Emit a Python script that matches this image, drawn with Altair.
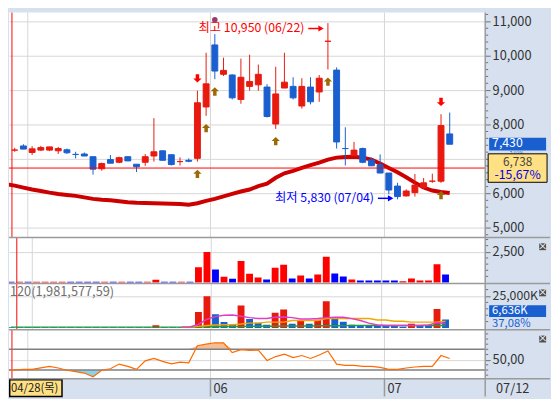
import altair as alt
import pandas as pd

# ---------------- data ----------------
day_index = list(range(52))
open_p = [7260, 7260, 7380, 7190, 7259, 7259, 7239, 7268, 7134, 7146, 7068, 6718, 6983, 6906, 7068, 6849,
          6906, 7088, 7239, 7125, 6926, 6963, 7020, 8513, 10316, 9462, 9442, 8730, 9111, 9157, 9091, 8017,
          9063, 9111, 8541, 9091, 8949, 10422, 9584, 7305, 7097, 7305, 6974, 6832, 6593, 6214, 5929, 6023,
          6165, 6356, 6356, 7730]
high_p = [7260, 7325, 7430, 7373, 7382, 7353, 7353, 7305, 7211, 7191, 7068, 6897, 7117, 7068, 7068, 6849,
          7146, 8188, 7239, 7125, 7048, 7020, 8986, 10088, 10630, 9946, 9462, 9917, 10031, 9746, 9177, 9681,
          10088, 9376, 9348, 9376, 9442, 10950, 9661, 7923, 7496, 7333, 7040, 7134, 6593, 6308, 6120, 6564,
          6450, 6575, 8302, 8350]
low_p = [7100, 7210, 7288, 7117, 7231, 7231, 7146, 7146, 7020, 7088, 6547, 6661, 6878, 6878, 6946, 6621,
         6803, 6926, 6963, 6812, 6812, 6906, 6926, 8256, 9319, 9413, 8730, 8607, 8986, 8986, 8208, 7875,
         9063, 8730, 8464, 8587, 8664, 9604, 7305, 6812, 7097, 6878, 6803, 6593, 5977, 5830, 5909, 5909,
         6137, 6308, 6308, 7430]
close_p = [7260, 7260, 7288, 7296, 7333, 7353, 7305, 7182, 7134, 7088, 6706, 6869, 6878, 7040, 6946, 6775,
           7068, 7211, 6963, 6840, 6926, 6935, 8635, 9185, 9556, 9576, 8778, 9376, 9254, 9462, 8236, 8892,
           9234, 8778, 9111, 8664, 9348, 10422, 7496, 7305, 7259, 6906, 6803, 6593, 6100, 5909, 6071, 6242,
           6308, 6356, 7972, 7430]
candle_dir = ['d', 'u', 'd', 'u', 'u', 'u', 'u', 'd', 'd', 'd', 'd', 'u', 'd', 'u', 'd', 'd', 'u', 'u', 'd', 'd',
              'u', 'd', 'u', 'u', 'd', 'u', 'd', 'u', 'u', 'u', 'd', 'u', 'u', 'd', 'u', 'd', 'u', 'u', 'd', 'd',
              'u', 'd', 'd', 'd', 'd', 'd', 'u', 'u', 'u', 'u', 'u', 'd']
price_ma = [6271, 6228, 6171, 6114, 6071, 6023, 5986, 5957, 5929, 5886, 5843, 5815, 5801, 5772, 5744, 5729,
            5724, 5715, 5709, 5701, 5692, 5672, 5715, 5786, 5843, 5915, 5986, 6057, 6114, 6214, 6285, 6456,
            6584, 6655, 6741, 6826, 6897, 6983, 7040, 7060, 7068, 7040, 6983, 6869, 6741, 6613, 6470, 6313,
            6171, 6085, 6043, 6014]
volume_k = [700, 700, 700, 700, 700, 700, 700, 700, 700, 700, 700, 700, 700, 700, 700, 700, 700, 2200,
            700, 700, 700, 700, 12500, 24900, 10700, 4700, 3200, 17600, 7100, 4100, 2500, 12000, 14400, 3300,
            5700, 3300, 6500, 21000, 7300, 4900, 2500, 1700, 1700, 1700, 1700, 1700, 1000, 3300, 1700, 1700,
            14800, 6636]
vma_fast = [700, 770, 2760, 6900, 8900, 9970, 10200, 9200, 8130, 7360, 7360, 8440, 8670, 8130, 7130, 7130,
            7360, 8130, 8440, 8440, 7360, 5830, 3835, 2300, 2000, 2000, 2000, 2000, 2000, 2300, 4065, 3530]
vma_mid = [700, 770, 1280, 2000, 2300, 2560, 2560, 3070, 3835, 3835, 4600, 4600, 4600, 5830, 5830, 5830,
           5830, 7360, 7360, 7360, 7360, 7360, 7360, 6340, 6340, 5370, 5370, 4600, 4600, 4600, 4600, 5370]
vma_long = [700, 700, 700, 700, 700, 700, 700, 700, 700, 700, 700, 700, 700, 700, 700, 700, 700, 700, 700,
            700, 700, 720, 800, 950, 1050, 1100, 1150, 1250, 1300, 1350, 1380, 1450, 1550, 1580, 1620, 1650,
            1700, 1800, 1850, 1880, 1900, 1920, 1940, 1950, 1960, 1960, 1960, 1970, 1970, 1975, 1980, 1981]
osc = [30, 30, 31.3, 31.3, 34, 37, 33.8, 29.4, 26.8, 24, 16.7, 29.4, 32.4, 41.4, 37, 31.3, 47.7, 52.3, 46.6,
       42, 45.2, 43.9, 77, 80, 82.7, 82.7, 63.7, 69.4, 68, 68.7, 48.5, 56, 60.5, 54, 58, 52.3, 59, 66.8, 41.4,
       39, 39, 37, 37, 35.1, 31.3, 31.3, 33.8, 35.7, 37, 37, 58, 52.3]
buy_days = [22, 23, 24, 31, 37, 50]
sell_days = [22, 50]
peak_days = [24, 37]
month_bounds = [2.5, 23.5, 43.5]
month_labels = ["", "06", "07"]
cross_day = 0.68
cross_price = 6738
price_ticks = [5000, 6000, 7000, 8000, 9000, 10000, 11000]

# ---------------- styling ----------------
RED, BLUE = "#e8190f", "#1a5fcf"
VRED, VBLUE = "#ff0000", "#0000ff"
BROWN = "#9c6a04"
BG = "#d6e0ef"
GRID = "#d6d6d6"
BORDER = "#9a9a9a"
FONT = "Liberation Sans Narrow, Noto Sans CJK KR, sans-serif"
W = 485
HA, HB, HC, HD, HE = 229, 47, 47, 50, 18
FULL = 551

df = pd.DataFrame(dict(i=day_index, o=open_p, h=high_p, l=low_p, c=close_p, d=candle_dir,
                       ma=price_ma, vol=volume_k, osc=osc))
months = pd.DataFrame(dict(b=month_bounds, lab=month_labels))
one = pd.DataFrame(dict(a=[0]))

XS = alt.Scale(domain=[0.34, 55.08], nice=False, zero=False)


def X(f="i:Q"):
    return alt.X(f, scale=XS, axis=None)


def yaxis(values, fmt=None, expr=None, size=13):
    kw = dict(orient="right", values=values, title=None, domain=False, tickColor="#707070", tickSize=5,
              labelFont=FONT, labelFontSize=size, labelColor="#333333", labelPadding=2, grid=True,
              gridColor=GRID, labelOverlap=False, labelFlush=False)
    if fmt:
        kw["format"] = fmt
    if expr:
        kw["labelExpr"] = expr
    return alt.Axis(**kw)


dir_scale = alt.Scale(domain=["u", "d"], range=[RED, BLUE])
vdir_scale = alt.Scale(domain=["u", "d"], range=[VRED, VBLUE])

UP = "M0,-1L1,-0.05L0.42,-0.05L0.42,1L-0.42,1L-0.42,-0.05L-1,-0.05Z"
DOWN = "M0,1L1,0.05L0.42,0.05L0.42,-1L-0.42,-1L-0.42,0.05L-1,0.05Z"


def common_layers():
    return [alt.Chart(months).mark_rule(color=GRID).encode(x=X("b:Q")),
            alt.Chart(pd.DataFrame(dict(b=[cross_day]))).mark_rule(color="#ff0000").encode(x=X("b:Q"))]


def frame_layers(H, top_rule=True):
    ls = [alt.Chart(one).mark_rule(color=BORDER, strokeWidth=1.5).encode(
        x=alt.value(W), y=alt.value(0), y2=alt.value(H))]
    if top_rule:
        ls.append(alt.Chart(one).mark_rule(color=BORDER, strokeWidth=1.5, strokeCap="butt").encode(
            x=alt.value(0), x2=alt.value(FULL), y=alt.value(0)))
    return ls


def close_button():
    return [alt.Chart(one).mark_rect(color="#4d4d4d").encode(
                x=alt.value(540), x2=alt.value(547), y=alt.value(6), y2=alt.value(13)),
            alt.Chart(one).mark_text(text="×", color="white", fontSize=10, font=FONT, align="center",
                                     baseline="middle").encode(x=alt.value(543.5), y=alt.value(9.5))]


# ---------------- panel A: price ----------------
YA = alt.Scale(domain=[4723, 11257], nice=False, zero=False)
AXA = yaxis(price_ticks, expr="datum.value == 7000 ? '' : format(datum.value, ',')")


def YP(f):
    return alt.Y(f, scale=YA, axis=AXA)


base = alt.Chart(df)
ma_line = base.mark_line(color="#cc0000", strokeWidth=4, clip=True).encode(x=X(), y=YP("ma:Q"))
wicks = base.mark_rule(clip=True).encode(
    x=X(), y=YP("l:Q"), y2="h:Q", color=alt.Color("d:N", scale=dir_scale, legend=None))
bodies = base.transform_calculate(x1="datum.i - 0.34", x2="datum.i + 0.34").mark_rect(
    clip=True, strokeWidth=1).encode(
    x=X("x1:Q"), x2="x2:Q", y=YP("o:Q"), y2="c:Q",
    fill=alt.Fill("d:N", scale=dir_scale, legend=None),
    stroke=alt.Stroke("d:N", scale=dir_scale, legend=None))
hline = alt.Chart(pd.DataFrame(dict(p=[cross_price]))).mark_rule(color="#ff0000").encode(y=YP("p:Q"))

buy_df = df[df.i.isin(buy_days)]
sell_df = df[df.i.isin(sell_days)]
peak_df = df[df.i.isin(peak_days)]
buys = alt.Chart(buy_df).mark_point(shape=UP, filled=True, opacity=1, size=72, color=BROWN,
                                     yOffset=12.5, clip=True).encode(x=X(), y=YP("l:Q"))
sells = alt.Chart(sell_df).mark_point(shape=DOWN, filled=True, opacity=1, size=72, color="#ff0000",
                                       yOffset=-12.5, clip=True).encode(x=X(), y=YP("h:Q"))
peaks = alt.Chart(peak_df).mark_circle(color="#9b3a6e", opacity=1, size=32, yOffset=-14.5,
                                        clip=True).encode(x=X(), y=YP("h:Q"))


def extreme(day, price, txt, col, dy):
    d = alt.Chart(pd.DataFrame(dict(i=[day], p=[price], t=[txt])))
    return [
        d.mark_text(align="right", baseline="middle", font=FONT, fontSize=12.5, color=col,
                    xOffset=-24, yOffset=dy).encode(x=X(), y=YP("p:Q"), text="t:N"),
        d.mark_rule(color=col, strokeWidth=1.5, xOffset=-20, x2Offset=-8, yOffset=dy + 0.5).encode(
            x=X(), x2="i:Q", y=YP("p:Q")),
        d.mark_point(shape="triangle-right", filled=True, opacity=1, size=40, color=col,
                     xOffset=-7, yOffset=dy + 0.5).encode(x=X(), y=YP("p:Q")),
    ]


hi_ann = extreme(37, 10950, "최고 10,950 (06/22)", "#ff0000", 5.0)
lo_ann = extreme(45, 5830, "최저 5,830 (07/04)", "#0000ff", -1.5)

minorA = pd.DataFrame(dict(v=[v for v in range(4800, 11201, 200) if v % 1000]))
minA = alt.Chart(minorA).mark_rule(color="#707070").encode(
    y=YP("v:Q"), x=alt.value(W), x2=alt.value(W + 3))

last_df = pd.DataFrame(dict(p=[7430]))
cur_box = alt.Chart(last_df).mark_rect(color=BLUE, yOffset=-6.5, y2Offset=6.5).encode(
    x=alt.value(489), x2=alt.value(547), y=YP("p:Q"), y2="p:Q")
cur_txt = alt.Chart(last_df).mark_text(align="left", baseline="middle", font=FONT, fontSize=12.5,
                                       color="white", yOffset=-1.5).encode(
    x=alt.value(492), y=YP("p:Q"), text=alt.value("7,430"))
chg_txt = alt.Chart(last_df).mark_text(align="left", baseline="middle", font=FONT, fontSize=5,
                                       color="#1a5fcf", yOffset=8.5).encode(
    x=alt.value(510), y=YP("p:Q"), text=alt.value("2,01%"))
cr_df = pd.DataFrame(dict(p=[cross_price]))
cr_box = alt.Chart(cr_df).mark_rect(fill="#ffe082", stroke="black", strokeWidth=1, yOffset=-14.5,
                                    y2Offset=14.5).encode(
    x=alt.value(488), x2=alt.value(548), y=YP("p:Q"), y2="p:Q")
cr_t1 = alt.Chart(cr_df).mark_text(align="center", baseline="middle", font=FONT, fontSize=12,
                                   color="#444444", yOffset=-6.5).encode(
    x=alt.value(518), y=YP("p:Q"), text=alt.value("6,738"))
cr_t2 = alt.Chart(cr_df).mark_text(align="center", baseline="middle", font=FONT, fontSize=12.5,
                                   color="#0000ee", yOffset=7.5).encode(
    x=alt.value(518), y=YP("p:Q"), text=alt.value("-15,67%"))

A = alt.layer(*common_layers(), ma_line, wicks, bodies, hline, buys, sells, peaks, *hi_ann, *lo_ann,
              minA, cur_box, cur_txt, chg_txt, cr_box, cr_t1, cr_t2,
              *frame_layers(HA, top_rule=False)).properties(width=W, height=HA)

# ---------------- panel B: volume (10K units) ----------------
YB = alt.Scale(domain=[-80, 3674], nice=False, zero=False)
AXB = yaxis([2500], fmt=",d")
volB = base.transform_calculate(v10="datum.vol / 10").mark_bar(size=7, clip=True).encode(
    x=X(), y=alt.Y("v10:Q", scale=YB, axis=AXB), y2=alt.datum(0),
    color=alt.Color("d:N", scale=vdir_scale, legend=None))
minB = alt.Chart(pd.DataFrame(dict(v=[500, 1000, 1500, 2000, 3000, 3500]))).mark_rule(
    color="#707070").encode(y=alt.Y("v:Q", scale=YB, axis=AXB), x=alt.value(W), x2=alt.value(W + 3))
B = alt.layer(*common_layers(), volB, minB, *close_button(), *frame_layers(HB)).properties(
    width=W, height=HB)

# ---------------- panel C: volume (K) with averages ----------------
YC = alt.Scale(domain=[-1304, 34739], nice=False, zero=False)
AXC = yaxis([25000], expr="format(datum.value, ',') + 'K'", size=12.5)
volC = base.transform_window(prev="lag(vol)", sort=[alt.SortField("i")]).transform_calculate(
    vd="datum.prev != null && datum.vol > datum.prev ? 'u' : 'd'").mark_bar(size=7, clip=True).encode(
    x=X(), y=alt.Y("vol:Q", scale=YC, axis=AXC), y2=alt.datum(0),
    color=alt.Color("vd:N", scale=dir_scale, legend=None))
ma_rows = ([dict(i=k, v=v, s="long") for k, v in enumerate(vma_long)] +
           [dict(i=20 + k, v=v, s="mid") for k, v in enumerate(vma_mid)] +
           [dict(i=20 + k, v=v, s="fast") for k, v in enumerate(vma_fast)])
ma_df = pd.DataFrame(ma_rows)
vlines = alt.Chart(ma_df).mark_line(strokeWidth=1.5, clip=True).encode(
    x=X(), y=alt.Y("v:Q", scale=YC, axis=AXC),
    stroke=alt.Stroke("s:N", scale=alt.Scale(domain=["long", "mid", "fast"],
                                             range=["#1e9e3c", "#f0a800", "#e03cc8"]), legend=None),
    order=alt.Order("i:Q"))
minC = alt.Chart(pd.DataFrame(dict(v=[5000, 10000, 15000, 20000, 30000]))).mark_rule(
    color="#707070").encode(y=alt.Y("v:Q", scale=YC, axis=AXC), x=alt.value(W), x2=alt.value(W + 3))
c_title = alt.Chart(one).mark_text(text="120(1,981,577,59)", align="left", baseline="middle", font=FONT,
                                   fontSize=13, color="#707070").encode(x=alt.value(1), y=alt.value(9))
c_box = alt.Chart(one).mark_rect(color=BLUE).encode(x=alt.value(489), x2=alt.value(547),
                                                    y=alt.value(22), y2=alt.value(34))
c_val = alt.Chart(one).mark_text(text="6,636K", align="left", baseline="middle", font=FONT, fontSize=11.5,
                                 color="white").encode(x=alt.value(492), y=alt.value(28.5))
c_pct = alt.Chart(one).mark_text(text="37,08%", align="left", baseline="middle", font=FONT, fontSize=11.5,
                                 color="#1a5fcf").encode(x=alt.value(492), y=alt.value(41))
C = alt.layer(*common_layers(), volC, vlines, minC, c_title, c_box, c_val, c_pct, *close_button(),
              *frame_layers(HC)).properties(width=W, height=HC)

# ---------------- panel D: oscillator ----------------
YD = alt.Scale(domain=[12.9, 108.1], nice=False, zero=False)
AXD = yaxis([50], expr="'50,00'")
hi_area = base.transform_calculate(up="max(datum.osc, 70)").mark_area(color="#f5be96", clip=True).encode(
    x=X(), y=alt.Y("up:Q", scale=YD, axis=AXD), y2=alt.datum(70))
lo_area = base.transform_calculate(dn="min(datum.osc, 30)").mark_area(color="#8cd2ea", clip=True).encode(
    x=X(), y=alt.Y("dn:Q", scale=YD, axis=AXD), y2=alt.datum(30))
levels = alt.Chart(pd.DataFrame(dict(v=[30, 70]))).mark_rule(color="#808080", strokeWidth=1.5).encode(
    y=alt.Y("v:Q", scale=YD, axis=AXD))
osc_line = base.mark_line(color="#ff6a00", strokeWidth=1.2, clip=True).encode(
    x=X(), y=alt.Y("osc:Q", scale=YD, axis=AXD))
minD = alt.Chart(pd.DataFrame(dict(v=[20, 30, 40, 60, 70, 80, 90, 100]))).mark_rule(
    color="#707070").encode(y=alt.Y("v:Q", scale=YD, axis=AXD), x=alt.value(W), x2=alt.value(W + 3))
D = alt.layer(*common_layers(), hi_area, lo_area, levels, osc_line, minD, *close_button(),
              *frame_layers(HD)).properties(width=W, height=HD)

# ---------------- panel E: date strip ----------------
mon2 = months[months.lab != ""]
e_rules = alt.Chart(mon2).mark_rule(color=BORDER, strokeWidth=1.5).encode(x=X("b:Q"))
e_text = alt.Chart(mon2).mark_text(align="left", baseline="middle", font=FONT, fontSize=13, color="#333333",
                                   xOffset=3).encode(x=X("b:Q"), y=alt.value(10), text="lab:N")
e_box = alt.Chart(one).mark_rect(fill="#ffe082", stroke="black", strokeWidth=1.5).encode(
    x=alt.value(0.75), x2=alt.value(54), y=alt.value(1), y2=alt.value(18))
e_date = alt.Chart(one).mark_text(text="04/28(목)", align="left", baseline="middle", font=FONT, fontSize=11.5,
                                  color="#222222").encode(x=alt.value(2), y=alt.value(10))
e_end = alt.Chart(one).mark_text(text="07/12", align="left", baseline="middle", font=FONT, fontSize=13,
                                 color="#333333").encode(x=alt.value(496), y=alt.value(10))
E = alt.layer(e_rules, e_text, e_box, e_date, e_end, *frame_layers(HE)).properties(
    width=W, height=HE, view=alt.ViewBackground(fill=BG, strokeWidth=0))

chart = alt.vconcat(A, B, C, D, E, spacing=0, bounds="flush").resolve_scale(
    y="independent", color="independent", fill="independent", stroke="independent"
).properties(background=BG, padding=0).configure_view(strokeWidth=0, fill="white")

chart.save("out.html", embed_options={"renderer": "svg", "actions": False})
